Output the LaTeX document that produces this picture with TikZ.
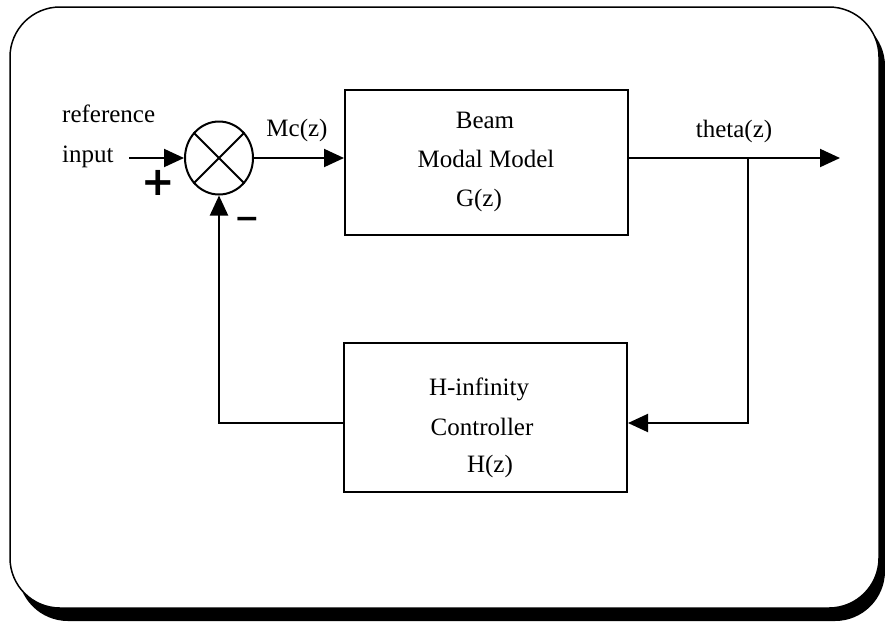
\documentclass[tikz,border=0pt]{standalone}
\usepackage{fontspec}
\setmainfont{Liberation Serif}
\newfontfamily\signfont{DejaVu Sans}
\usetikzlibrary{arrows.meta,shapes.geometric}
\begin{document}
\begin{tikzpicture}[x=1pt,y=-1pt,
  blk/.style={draw, line width=2pt, minimum width=283pt, inner sep=0pt},
  conn/.style={line width=2pt, line join=miter, -{Triangle[length=20pt,width=18pt]}},
  wire/.style={line width=2pt, line join=miter},
  lbl/.style={font=\fontsize{25}{30}\selectfont, inner sep=0pt, anchor=base},
  sign/.style={font=\signfont\bfseries\fontsize{40}{40}\selectfont, inner sep=0pt},
  frame/.style={draw, fill=white, line width=1.5pt, rounded corners=50pt},
  shadow/.style={fill=black, rounded corners=50pt}]
\useasboundingbox (0,0) rectangle (885,622);
% frame with shadow
\fill[shadow] (18,16) rectangle (885,621);
\draw[frame] (10,7) rectangle (879,608);
% blocks
\node[blk, minimum height=145pt] (G) at (486.5,162.5) {};
\node[blk, minimum height=149pt] (H) at (485.5,417.5) {};
% summing junction
\node[ellipse, draw, line width=2pt, minimum width=68pt, minimum height=73pt, inner sep=0pt] (sum) at (219,158) {};
\draw[wire] (sum.45) -- (sum.225);
\draw[wire] (sum.135) -- (sum.315);
% coordinates
\coordinate (in) at (129,158);
\coordinate (out) at (840,158);
\coordinate (br) at (748,158);
\coordinate (fb) at (219,423);
% connectors
\draw[conn] (in) -- (sum);
\draw[conn] (sum) -- (G.west |- sum);
\draw[conn] (G.east |- sum) -- (out);
\draw[conn] (br) -- (br |- fb) -- (H.east |- fb);
\draw[conn] (H.west |- fb) -- (fb) -- (sum);
% texts
\node[lbl, anchor=base west] (t1) at (62,122) {reference};
\node[lbl, anchor=base west] (t2) at (62,162) {input};
\node[lbl] (t3) at (297,136) {Mc(z)};
\node[lbl] (t4) at (734,137) {theta(z)};
\node[lbl] (g1) at (485,128) {Beam};
\node[lbl] (g2) at (486,167) {Modal Model};
\node[lbl] (g3) at (479,206) {G(z)};
\node[lbl] (h1) at (479,395) {H-infinity};
\node[lbl] (h2) at (482,435) {Controller};
\node[lbl] (h3) at (490,472) {H(z)};
\node[sign] (plus) at (158,183) {+};
\node[sign, font=\signfont\bfseries\fontsize{30}{30}\selectfont] (minus) at (247,223) {−};
\end{tikzpicture}
\end{document}
